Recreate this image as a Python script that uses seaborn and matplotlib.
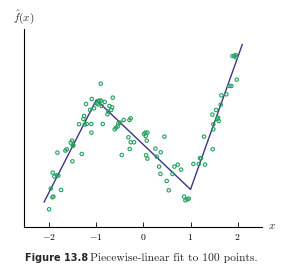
import matplotlib
matplotlib.use("Agg")
import matplotlib.pyplot as plt
import seaborn as sns
import pandas as pd

# scattered observations
point_x = [-2.003, -1.967, -1.932, -1.911, -1.925, -1.890, -1.840, -1.805, -1.826, -1.748,
           -1.656, -1.628, -1.543, -1.515, -1.500, -1.486, -1.507, -1.366, -1.309, -1.274,
           -1.260, -1.246, -1.217, -1.203, -1.132, -1.104, -1.104, -1.097, -1.047, -0.991,
           -0.970, -0.955, -0.934, -0.899, -0.885, -0.906, -0.863, -0.821, -0.764, -0.743,
           -0.722, -0.686, -0.665, -0.651, -0.609, -0.580, -0.545, -0.531, -0.495, -0.460,
           -0.418, -0.318, -0.297, -0.269, -0.290, -0.269, -0.198, 0.014, 0.042, 0.050,
           0.071, 0.085, 0.057, 0.085, 0.255, 0.283, 0.333, 0.361, 0.368, 0.446,
           0.495, 0.538, 0.616, 0.658, 0.729, 0.800, 0.863, 0.892, 0.934, 0.962,
           1.062, 1.175, 1.203, 1.224, 1.288, 1.309, 1.465, 1.486, 1.472, 1.486,
           1.543, 1.571, 1.585, 1.599, 1.642, 1.656, 1.762, 1.826, 1.868, 1.890,
           1.932, 1.960, 1.967, 1.982]
point_y = [0.368, 0.807, 0.623, 0.637, 1.147, 1.062, 1.090, 1.083, 1.571, 0.778,
           1.614, 1.642, 1.783, 1.826, 1.713, 1.727, 1.387, 2.173, 1.543, 2.286,
           2.350, 2.166, 2.604, 2.180, 2.477, 1.996, 2.180, 2.711, 2.512, 2.619,
           2.597, 2.668, 2.675, 2.675, 2.562, 3.036, 2.180, 2.647, 2.385, 2.442,
           2.562, 2.477, 2.534, 2.739, 2.067, 2.102, 2.130, 2.194, 2.208, 1.522,
           2.265, 1.897, 2.265, 2.300, 1.649, 1.791, 1.791, 1.967, 1.996, 1.925,
           1.826, 1.996, 1.515, 1.444, 1.656, 1.486, 1.274, 1.118, 1.578, 1.911,
           0.970, 0.771, 1.118, 1.274, 1.316, 1.210, 0.637, 0.559, 0.580, 0.594,
           1.331, 1.331, 1.451, 1.451, 1.911, 1.316, 2.378, 2.173, 1.642, 2.067,
           2.477, 2.286, 2.314, 2.243, 2.590, 2.788, 2.810, 2.987, 2.987, 3.623,
           3.623, 3.645, 3.595, 3.121]

# piecewise-linear fit knots
fit_x = [-2.11, -1.0, 1.0, 2.10]
fit_y = [0.52, 2.69, 0.79, 3.87]

xtick_values = [-2, -1, 0, 1, 2]
xtick_labels = ["$-2$", "$-1$", "$0$", "$1$", "$2$"]

sns.set_style("white")
plt.rcParams["mathtext.fontset"] = "cm"

fig = plt.figure(figsize=(2.85, 2.74), dpi=100)
ax = fig.add_axes([0.085, 0.173, 0.833, 0.72])

pts = pd.DataFrame({"x": point_x, "y": point_y})
fit = pd.DataFrame({"x": fit_x, "y": fit_y})

sns.lineplot(data=fit, x="x", y="y", sort=False, color="#3b3583", linewidth=1.0, ax=ax)
sns.scatterplot(data=pts, x="x", y="y", ax=ax, marker="o", s=6,
                facecolors="none", edgecolor="#22a05e", linewidth=0.8, zorder=3)

ax.set_xlim(-2.53, 2.51)
ax.set_ylim(0, 4.19)
ax.set_xticks(xtick_values)
ax.set_xticklabels(xtick_labels, fontsize=7)
ax.set_yticks([])
ax.set_xlabel("")
ax.set_ylabel("")
for s in ["top", "right"]:
    ax.spines[s].set_visible(False)
for s in ["left", "bottom"]:
    ax.spines[s].set_color("black")
    ax.spines[s].set_linewidth(0.8)
ax.tick_params(axis="x", direction="in", length=3.5, width=0.6, pad=4, colors="black")
ax.tick_params(axis="x", bottom=True)

fig.text(13 / 285, 1 - 17 / 274, r"$\hat{f}(x)$", fontsize=8, ha="left", va="center")
fig.text(268 / 285, 1 - 226 / 274, r"$x$", fontsize=8, ha="left", va="center")

fig.text(25 / 285, 1 - 258 / 274, "Figure 13.8", fontsize=7, fontweight="bold",
         family="DejaVu Sans", ha="left", va="center")
fig.text(90 / 285, 1 - 258 / 274, "Piecewise-linear fit to 100 points.", fontsize=8.3,
         family="cmr10", ha="left", va="center")

fig.savefig("out.png", dpi=100)
